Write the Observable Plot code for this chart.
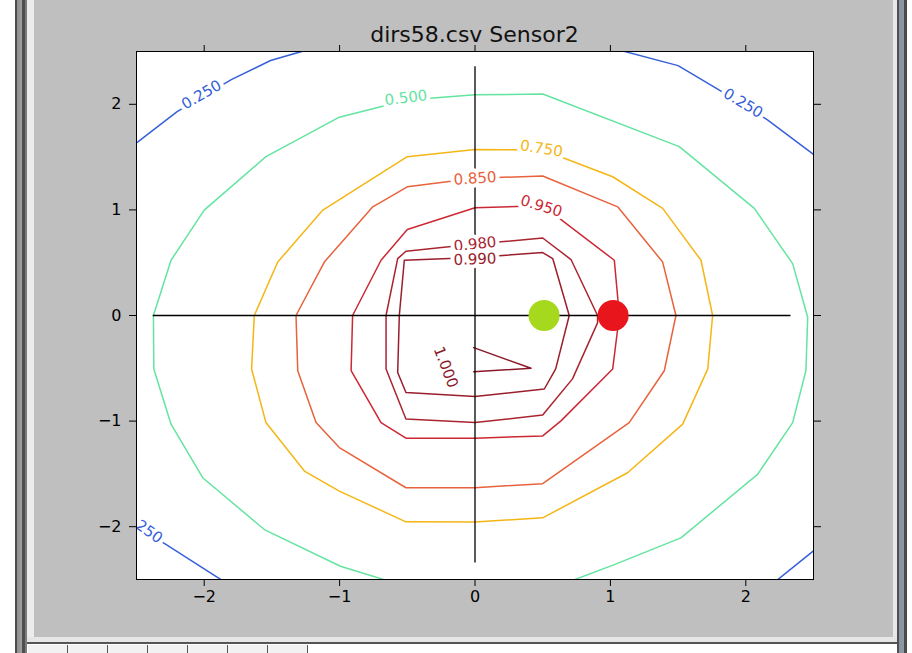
<!DOCTYPE html>
<html>
<head>
<meta charset="utf-8">
<script src="https://cdn.jsdelivr.net/npm/d3@7"></script>
<script src="https://cdn.jsdelivr.net/npm/@observablehq/plot@0.6"></script>
<style>
html, body { margin: 0; padding: 0; background: #ffffff; width: 912px; height: 653px; overflow: hidden; font-family: "DejaVu Sans", sans-serif; }
.abs { position: absolute; }
#leftbar { left: 15px; top: 0; width: 12px; height: 653px;
  background: linear-gradient(to right, #4c4c4c 0px, #4c4c4c 2px, #8e8e8e 2px, #a0a0a0 7px, #4e4e4e 7px, #4e4e4e 10px, #7c7c7c 10px, #7c7c7c 12px); }
#leftlight { left: 27px; top: 0; width: 7px; height: 642px; background: #ececec; }
#gray { left: 34px; top: 0; width: 859px; height: 637px; background: #bfbfbf; }
#rightlight { left: 893px; top: 0; width: 4px; height: 642px; background: #e8e8e8; }
#rightbar { left: 897px; top: 0; width: 10px; height: 653px;
  background: linear-gradient(to right, #505050 0px, #505050 2px, #8a92a2 2px, #9098a8 7px, #4a4a4a 7px, #4a4a4a 10px); }
#bottomlight { left: 27px; top: 637px; width: 870px; height: 5px; background: #e6e6e6; }
#bottomdark { left: 27px; top: 642px; width: 870px; height: 2px; background: #555555; }
#toolbar { left: 28px; top: 645px; height: 8px; display: flex; }
#toolbar div { width: 39px; height: 8px; background: #f2f2f2; border-right: 1px solid #555; }
#chart { left: 34px; top: 0; }
#title { left: 136px; width: 677px; top: 24px; text-align: center; font-size: 22px; line-height: 1; color: #111; font-family: "DejaVu Sans", sans-serif; }
</style>
</head>
<body>
<div id="leftbar" class="abs"></div>
<div id="leftlight" class="abs"></div>
<div id="gray" class="abs"></div>
<div id="rightlight" class="abs"></div>
<div id="rightbar" class="abs"></div>
<div id="bottomlight" class="abs"></div>
<div id="bottomdark" class="abs"></div>
<div id="toolbar" class="abs"><div></div><div></div><div></div><div></div><div></div><div></div><div></div></div>
<div id="chart" class="abs"></div>
<div id="title" class="abs">dirs58.csv Sensor2</div>
<script>
// ---- data ----
const xTicks = [-2, -1, 0, 1, 2];
const yTicks = [-2, -1, 0, 1, 2];
const levels = [0.25, 0.5, 0.75, 0.85, 0.95, 0.98, 0.99, 1.0];
const levelText = ["0.250", "0.500", "0.750", "0.850", "0.950", "0.980", "0.990", "1.000"];

// contour polylines (data coordinates)
const c250a = [[-2.7,1.45],[-2.49,1.645],[-2.2,1.93],[-1.80,2.233],[-1.51,2.415],[-1.26,2.508],[-1.0,2.6]];
const c250b = [[0.8,2.61],[1.10,2.502],[1.50,2.366],[1.78,2.154],[2.16,1.853],[2.49,1.536],[2.7,1.33]];
const c250c = [[-2.75,-1.80],[-2.28,-2.169],[-1.875,-2.502],[-1.7,-2.65]];
const c250d = [[2.08,-2.67],[2.235,-2.502],[2.495,-2.233],[2.7,-2.03]];
const c500 = [[-0.4,-2.61],[-0.67,-2.502],[-0.994,-2.375],[-1.556,-2.027],[-2.011,-1.536],[-2.245,-1.029],[-2.372,-0.506],[-2.375,0],[-2.245,0.523],[-2.0,0.998],[-1.544,1.504],[-1.002,1.878],[-0.5,2.04],[0,2.09],[0.5,2.097],[1.509,1.599],[2.063,1.014],[2.346,0.491],[2.457,-0.016],[2.444,-0.523],[2.346,-1.014],[2.087,-1.504],[1.521,-2.106],[1.029,-2.359],[0.734,-2.502],[0.5,-2.62]];
const c750 = [[-1.63,0],[-1.65,-0.506],[-1.544,-1.014],[-1.26,-1.473],[-1.002,-1.663],[-0.51,-1.954],[0,-1.955],[0.5,-1.916],[1.127,-1.489],[1.534,-1.029],[1.719,-0.506],[1.755,0],[1.669,0.523],[1.386,1.014],[1.017,1.314],[0.5,1.567],[0,1.573],[-0.5,1.504],[-1.124,0.998],[-1.457,0.506],[-1.63,0]];
const c850 = [[-1.322,0],[-1.309,-0.523],[-1.174,-1.014],[-1.002,-1.251],[-0.51,-1.631],[0,-1.63],[0.5,-1.593],[1.139,-1.014],[1.398,-0.523],[1.484,0],[1.386,0.506],[1.054,1.029],[0.5,1.321],[0,1.30],[-0.5,1.219],[-0.755,1.029],[-1.113,0.506],[-1.322,0]];
const c950 = [[-0.904,0],[-0.915,-0.523],[-0.694,-1.014],[-0.51,-1.162],[0,-1.162],[0.5,-1.14],[0.635,-0.998],[1.017,-0.506],[1.066,0],[1.029,0.523],[0.5,1.04],[0,1.02],[-0.5,0.814],[-0.694,0.523],[-0.904,0]];
const c980 = [[-0.657,0],[-0.657,-0.506],[-0.51,-0.981],[0,-1.014],[0.5,-0.943],[0.72,-0.6],[0.905,-0.07],[0.905,0],[0.709,0.53],[0.5,0.734],[0,0.676],[-0.51,0.608],[-0.571,0.539],[-0.657,0]];
const c990 = [[-0.559,0],[-0.571,-0.539],[-0.51,-0.729],[0,-0.767],[0.512,-0.696],[0.596,-0.506],[0.696,0],[0.574,0.539],[0.5,0.596],[0,0.55],[-0.522,0.523],[-0.559,0]];
const c1000 = [[-0.01,-0.304],[0.414,-0.5],[-0.01,-0.532]];

// inline contour labels: level, position and angle
const labelLevel = [0.25, 0.25, 0.25, 0.5, 0.75, 0.85, 0.95, 0.98, 0.99, 1.0];
const labelX =     [-2.02, 1.98, -2.45, -0.51, 0.49, 0, 0.49, 0, 0, -0.216];
const labelY =     [2.09, 2.01, -2.01, 2.06, 1.58, 1.297, 1.035, 0.675, 0.532, -0.49];
const labelAngle = [-30, 31, 35, -7, 9, -4, 17, -6, -2, 69];

// crosshair and sensor markers
const crossX = [-2.38, 2.33];
const crossY = [2.36, -2.34];
const sensorX = [0.51, 1.02];
const sensorY = [0, 0];

// ---- build tables ----
const paths = [
  {level: 0.25, pts: c250a}, {level: 0.25, pts: c250b}, {level: 0.25, pts: c250c}, {level: 0.25, pts: c250d},
  {level: 0.5, pts: c500}, {level: 0.75, pts: c750}, {level: 0.85, pts: c850},
  {level: 0.95, pts: c950}, {level: 0.98, pts: c980}, {level: 0.99, pts: c990}, {level: 1.0, pts: c1000}
];
const lineRows = paths.flatMap((p, i) => p.pts.map(([x, y]) => ({id: i, level: p.level, x, y})));
const labelRows = labelLevel.map((lv, i) => ({
  level: lv, x: labelX[i], y: labelY[i], angle: labelAngle[i], text: levelText[levels.indexOf(lv)]
}));
const crossRows = [
  {x1: crossX[0], y1: 0, x2: crossX[1], y2: 0},
  {x1: 0, y1: crossY[0], x2: 0, y2: crossY[1]}
];
const sensors = sensorX.map((x, i) => ({x, y: sensorY[i]}));

const levelColors = ["#3660d8", "#64e4a0", "#f4b614", "#e8623c", "#cc2834", "#aa2430", "#9a1e2c", "#8a1828"];
const fmt = d => d < 0 ? "\u2212" + Math.abs(d) : String(d);

const W = 859, H = 637;
const chart = Plot.plot({
  width: W, height: H,
  marginLeft: 102, marginRight: 80, marginTop: 51, marginBottom: 58,
  x: {domain: [-2.5, 2.5], label: null},
  y: {domain: [-2.5, 2.5], label: null},
  color: {type: "ordinal", domain: levels, range: levelColors},
  style: {background: "transparent", fontFamily: "DejaVu Sans", fontSize: "16px", color: "black", overflow: "visible"},
  marks: [
    Plot.frame({fill: "white", stroke: "none"}),
    Plot.line(lineRows, {x: "x", y: "y", z: "id", stroke: "level", strokeWidth: 1.5, clip: true}),
    Plot.link(crossRows, {x1: "x1", y1: "y1", x2: "x2", y2: "y2", stroke: "black", strokeWidth: 1.3}),
    Plot.text(labelRows, {x: "x", y: "y", text: "text", rotate: "angle", fill: "level",
      stroke: "white", strokeWidth: 8, fontSize: 15, fontFamily: "DejaVu Sans", clip: true}),
    Plot.dot([sensors[0]], {x: "x", y: "y", r: 15.5, fill: "#a6d81e", stroke: "none"}),
    Plot.dot([sensors[1]], {x: "x", y: "y", r: 15.5, fill: "#e8161c", stroke: "none"}),
    Plot.axisX(xTicks, {anchor: "bottom", tickSize: 7, tickPadding: 4, tickFormat: fmt, label: null, fontSize: 16}),
    Plot.axisX(xTicks, {anchor: "top", tickSize: 7, tickFormat: () => "", label: null}),
    Plot.axisY(yTicks, {anchor: "left", tickSize: 7, tickPadding: 8, tickFormat: fmt, label: null, fontSize: 16}),
    Plot.axisY(yTicks, {anchor: "right", tickSize: 7, tickFormat: () => "", label: null}),
    Plot.frame({stroke: "black", strokeWidth: 1})
  ]
});
document.getElementById("chart").appendChild(chart);
</script>
</body>
</html>
